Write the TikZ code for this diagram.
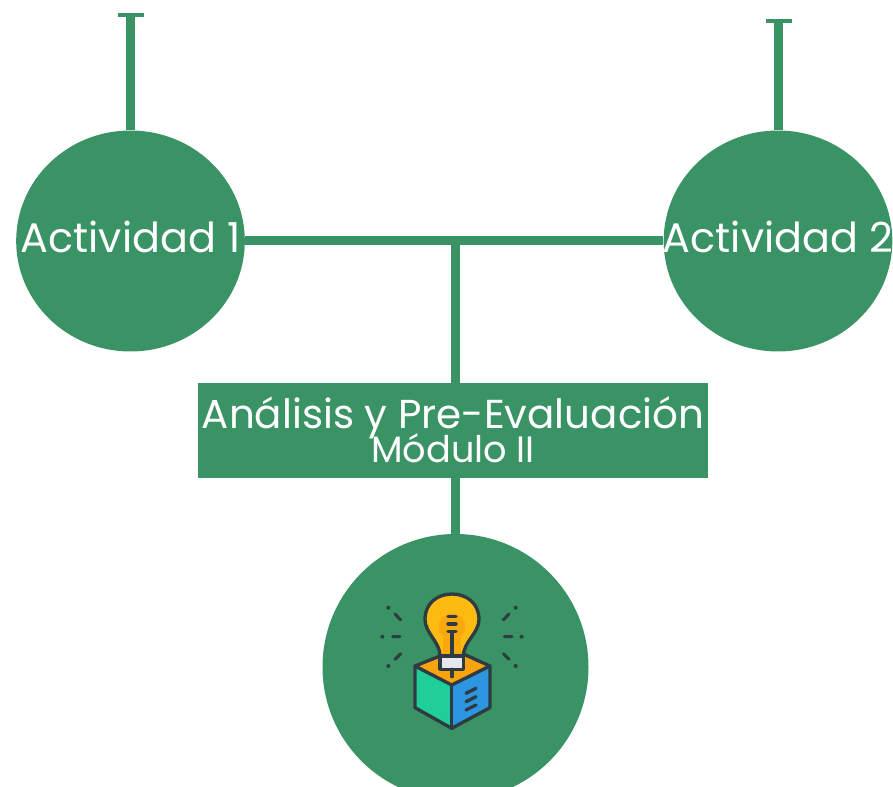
\documentclass[tikz,border=0pt]{standalone}
\usepackage{fontspec}
\usetikzlibrary{shapes.geometric}
\setmainfont{Poppins}
\definecolor{leaf}{HTML}{3A9364}
\definecolor{ink}{HTML}{2F3B42}
\definecolor{bulb}{HTML}{FDBB12}
\definecolor{bulbin}{HTML}{F9A90E}
\definecolor{boxtop}{HTML}{F9A30F}
\definecolor{boxleft}{HTML}{20CE9A}
\definecolor{boxright}{HTML}{2C96E0}
\definecolor{capg}{HTML}{E6E8EC}
\tikzset{
  disc/.style={ellipse,fill=leaf,draw=none,inner sep=0pt,minimum width=171.5pt,minimum height=165.75pt},
  bar/.style={draw=leaf,line width=6.75pt},
  tcap/.style={draw=leaf,line width=3pt},
  lab/.style={text=white,inner sep=0pt,font=\fontsize{31}{31}\selectfont},
  iconline/.style={draw=ink,line width=2.5pt,line cap=round,line join=round},
  spark/.style={draw=ink,line width=2.3pt,line cap=round},
}
\begin{document}
\begin{tikzpicture}[x=0.75pt,y=-0.75pt]
\useasboundingbox (0,0) rectangle (893,787);
\fill[white] (0,0) rectangle (893,787);
% discs
\node[disc] (a1) at (130.5,241) {};
\node[disc] (a2) at (778,241) {};
\node[disc,minimum width=199.5pt,minimum height=199.5pt] (ic) at (455.5,667) {};
\node[fill=leaf,minimum width=382.5pt,minimum height=71.25pt,inner sep=0pt] (mod) at (453,430.5) {};
\coordinate (t1) at (131,15.5);
\coordinate (t2) at (778.5,21.5);
\coordinate (j) at (455,241);
% connectors
\draw[bar] (a1.center |- a1.north) -- (a1.center |- t1);
\draw[bar] (a2.center |- a2.north) -- (a2.center |- t2);
\draw[tcap] ([xshift=-9.75pt]t1) -- ([xshift=9.75pt]t1);
\draw[tcap] ([xshift=-9.75pt]t2) -- ([xshift=9.75pt]t2);
\draw[bar] (a1.east) -- (a2.west);
\draw[bar] (j) -- (j |- mod.north);
\draw[bar] (j |- mod.south) -- (j |- ic.north);
% labels
\node[lab] (l1) at (130.5,237) {Actividad 1};
\node[lab] (l2) at (778,237) {Actividad 2};
\node[lab,font=\fontsize{30.3}{30.3}\selectfont] (l3) at (453,418) {Análisis y Pre-Evaluación};
\node[lab,font=\fontsize{27.5}{27.5}\selectfont] (l4) at (453,448) {Módulo II};
% icon, in 3x zoom coordinates of the crop at (360,580)
\begin{scope}[shift={(360,580)},x=0.25pt,y=-0.25pt]
  \fill[boxtop] (275,212) -- (385,258) -- (275,315) -- (165,258) -- cycle;
  \fill[boxleft] (165,258) -- (275,315) -- (275,442) -- (165,383) -- cycle;
  \fill[boxright] (385,258) -- (275,315) -- (275,442) -- (390,383) -- cycle;
  \path[fill=bulb] (240,228) .. controls (240,185) and (195,160) .. (195,118)
     .. controls (195,70) and (232,42) .. (276,42)
     .. controls (320,42) and (357,70) .. (357,118)
     .. controls (357,160) and (310,185) .. (310,228) -- cycle;
  \fill[bulbin] (276,140) circle[radius=40];
  \fill[bulbin] (250,150) -- (302,150) -- (302,228) -- (250,228) -- cycle;
  \draw[iconline] (240,228) .. controls (240,185) and (195,160) .. (195,118)
     .. controls (195,70) and (232,42) .. (276,42)
     .. controls (320,42) and (357,70) .. (357,118)
     .. controls (357,160) and (310,185) .. (310,228);
  \draw[iconline] (264,110) -- (288,110) (264,132) -- (288,132) (264,155) -- (288,155);
  \draw[iconline] (276,155) -- (276,228);
  \draw[iconline,fill=capg] (240,228) rectangle (310,268);
  \draw[iconline] (276,268) -- (276,290);
  \draw[iconline] (240,228) -- (165,258) -- (165,383) -- (275,445) -- (390,383) -- (390,258) -- (310,222);
  \draw[iconline] (165,258) -- (275,315) -- (390,258);
  \draw[iconline] (275,315) -- (275,445);
  \draw[iconline] (318,340) -- (348,325) (318,365) -- (348,350) (318,390) -- (348,375);
  \draw[spark] (105,102) -- (122,120) (98,170) -- (120,170) (105,238) -- (122,221);
  \draw[spark] (430,120) -- (447,102) (433,170) -- (456,170) (430,221) -- (447,238);
  \fill[ink] (85,83) circle[radius=6] (67,170) circle[radius=6] (85,258) circle[radius=6];
  \fill[ink] (467,83) circle[radius=6] (485,170) circle[radius=6] (467,258) circle[radius=6];
\end{scope}
\end{tikzpicture}
\end{document}
